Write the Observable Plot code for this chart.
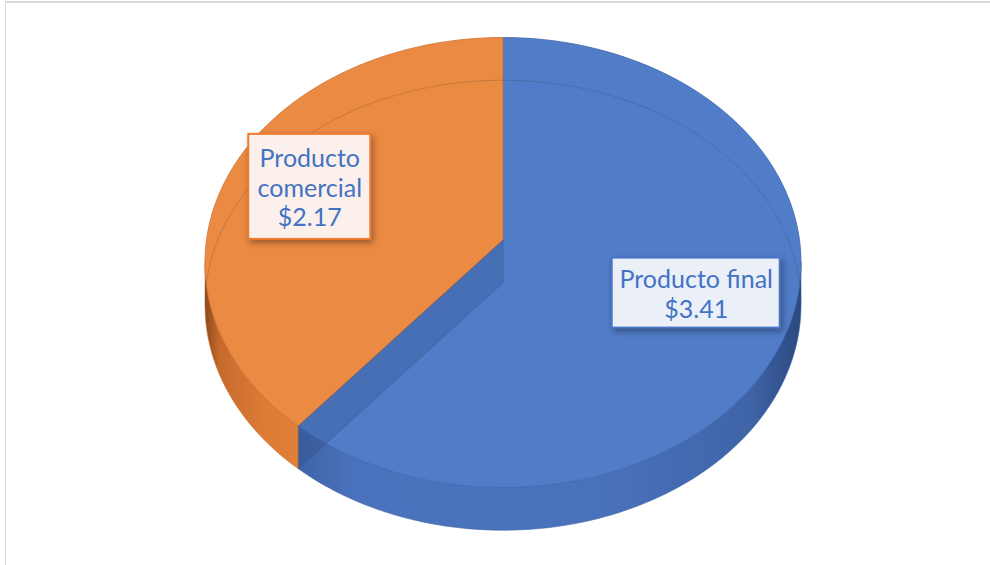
<!DOCTYPE html>
<html><head><meta charset="utf-8">
<script src="https://cdn.jsdelivr.net/npm/d3@7"></script>
<script src="https://cdn.jsdelivr.net/npm/@observablehq/plot@0.6"></script>
<style>
body{margin:0;background:#fff;}
#wrap{position:relative;width:990px;height:565px;overflow:hidden;background:#fff;}
#frame{position:absolute;left:5px;top:1px;width:1200px;height:800px;border-top:2px solid #d9d9d9;border-left:1px solid #d9d9d9;pointer-events:none;}
#chart{position:absolute;left:0;top:0;}
svg g[aria-label="rect"] rect{filter:drop-shadow(2px 3px 3px rgba(0,0,0,0.35));}
</style></head><body>
<div id="wrap"><div id="chart"></div><div id="frame"></div></div>
<script>
// ---- data ----
const categories = ["Producto final", "Producto comercial"];
const values = [3.41, 2.17];
const valueLabels = ["$3.41", "$2.17"];

// ---- style / geometry ----
const topColors = ["#517dc8", "#eb8a43"];
const edgeColors = ["#3f67ad", "#cf7233"];
const wallFills = ["url(#gBlue)", "url(#gOrange)"];
const boxFills = ["#eaeff8", "#fbf0eb"];
const boxStrokes = ["#4a76c4", "#ed7d31"];
const boxSizes = [[168, 70], [122, 105]];
const cx = 502.5, cy = 262, rx = 298, ry = 225;
const D = 0.19;      // thickness (y units)
const APEX = -0.1;   // perspective shift of the pie centre
const WARP = 0.06;   // perspective angular warp
const LR = 0.69;     // label radius

const pie = d3.pie().sort(null).value(d => d)(values);
const N = 240;
const warp = a => a + WARP * Math.sin(2 * a);
function arc(a0, a1, depth) {
  const n = Math.max(2, Math.ceil(Math.abs(a1 - a0) / (2 * Math.PI) * N));
  const pts = [];
  for (let i = 0; i <= n; i++) {
    const a = warp(a0 + (a1 - a0) * i / n);
    pts.push({x: Math.sin(a), y: -Math.cos(a) + depth});
  }
  return pts;
}
const apex = {x: 0, y: APEX};

const marks = [];
// front outer walls
pie.forEach((s, i) => {
  const a0 = Math.max(s.startAngle, Math.PI / 2), a1 = Math.min(s.endAngle, 3 * Math.PI / 2);
  if (a1 <= a0) return;
  const pts = [...arc(a0, a1, 0), ...arc(a1, a0, D)];
  pts.push(pts[0]);
  marks.push(Plot.line(pts, {x: "x", y: "y", fill: wallFills[i], stroke: edgeColors[i], strokeWidth: 0.6}));
});
// top faces
pie.forEach((s, i) => {
  const pts = [apex, ...arc(s.startAngle, s.endAngle, 0), apex];
  marks.push(Plot.line(pts, {x: "x", y: "y", fill: topColors[i], stroke: edgeColors[i], strokeWidth: 0.8}));
});
// back bottom edge seen through the translucent top
marks.push(Plot.line(arc(-Math.PI / 2, Math.PI / 2, D), {x: "x", y: "y", stroke: "#333", strokeOpacity: 0.2, strokeWidth: 1}));
// inner cut wall seen through the blue slice
{
  const a = warp(pie[1].startAngle);
  const r = {x: Math.sin(a), y: -Math.cos(a)};
  const quad = [apex, r, {x: r.x, y: r.y + D}, {x: 0, y: APEX + D}, apex];
  marks.push(Plot.line(quad, {x: "x", y: "y", fill: "#2c4a86", fillOpacity: 0.28, stroke: "#2c4a86", strokeOpacity: 0.45, strokeWidth: 0.8}));
}
// labels
const labels = pie.map((s, i) => {
  const m = (s.startAngle + s.endAngle) / 2;
  const name = boxSizes[i][0] < 140 ? categories[i].replace(" ", "\n") : categories[i];
  const hw = boxSizes[i][0] / 2 / rx, hh = boxSizes[i][1] / 2 / ry;
  const x = LR * Math.sin(m), y = APEX - LR * Math.cos(m);
  return {x, y, x1: x - hw, x2: x + hw, y1: y - hh, y2: y + hh, text: name + "\n" + valueLabels[i], i};
});
labels.forEach((l, i) => {
  marks.push(Plot.rect([l], {x1: "x1", x2: "x2", y1: "y1", y2: "y2", fill: boxFills[i], stroke: boxStrokes[i], strokeWidth: 2}));
});
marks.push(Plot.text(labels, {x: "x", y: "y", text: "text", fill: "#4472c4", fontSize: 25, fontFamily: "Lato", lineHeight: 1.2}));

const svg = Plot.plot({
  width: 990, height: 565,
  marginTop: 0, marginRight: 0, marginBottom: 0, marginLeft: 0,
  x: {domain: [-1, 1], range: [cx - rx, cx + rx], axis: null},
  y: {domain: [-1, 1], range: [cy - ry, cy + ry], axis: null},
  style: {background: "transparent", overflow: "visible"},
  marks
});
d3.select(svg).insert("defs", ":first-child").html(`
  <linearGradient id="gBlue" x1="0" x2="1" y1="0" y2="0">
    <stop offset="0" stop-color="#3f63a6"/>
    <stop offset="0.12" stop-color="#4b73bd"/>
    <stop offset="0.6" stop-color="#4a72bb"/>
    <stop offset="0.9" stop-color="#3f64a8"/>
    <stop offset="1" stop-color="#2c4880"/>
  </linearGradient>
  <linearGradient id="gOrange" x1="0" x2="1" y1="0" y2="0">
    <stop offset="0" stop-color="#8a4a1c"/>
    <stop offset="0.15" stop-color="#c56a2c"/>
    <stop offset="0.6" stop-color="#dc7a36"/>
    <stop offset="1" stop-color="#e0803a"/>
  </linearGradient>`);
document.getElementById("chart").appendChild(svg);
</script>
</body></html>
